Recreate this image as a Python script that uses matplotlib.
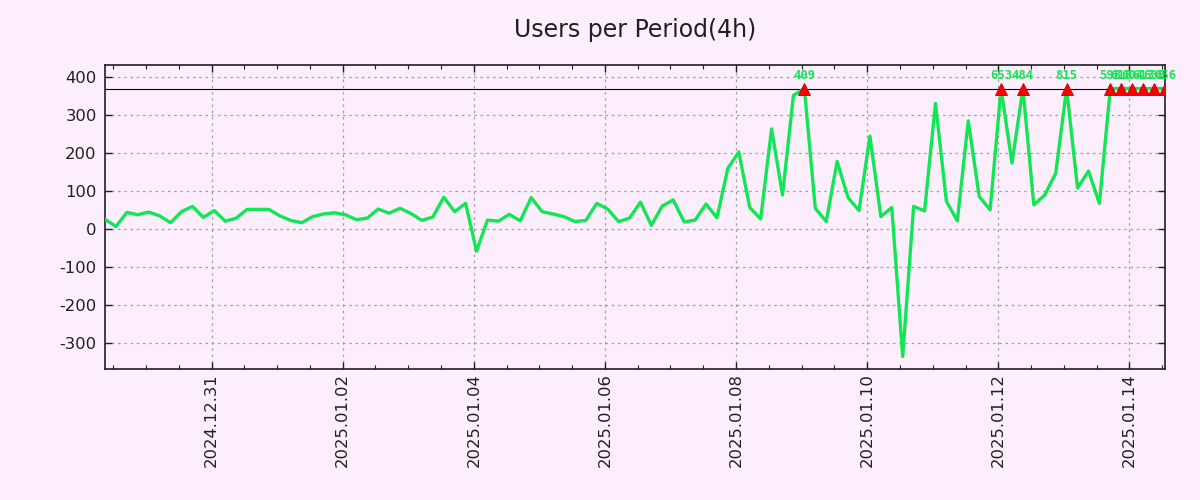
import numpy as np
import pandas as pd
import matplotlib
matplotlib.use("Agg")
import matplotlib.pyplot as plt
import matplotlib.dates as mdates
from matplotlib.ticker import FixedLocator

# ========== Data ==========
START = "2024-12-29 09:00"
PERIOD = "4h"
CLIP = 370  # values above this are drawn on the line with a marker

users = [
    26, 7, 44, 38, 45, 35, 17, 46, 60, 31,
    49, 21, 29, 52, 52, 52, 35, 23, 17, 33,
    40, 43, 38, 25, 29, 53, 42, 55, 41, 23,
    32, 84, 46, 68, -58, 24, 21, 39, 22, 83,
    46, 40, 33, 20, 23, 68, 53, 20, 29, 71,
    10, 61, 77, 19, 24, 66, 30, 160, 203, 57,
    27, 264, 90, 352, 409, 55, 20, 178, 83, 49,
    245, 33, 57, -335, 60, 48, 331, 73, 22, 285,
    86, 51, 653, 174, 484, 64, 90, 147, 815, 108,
    153, 68, 598, 618, 604, 613, 638, 656,
]
y_ticks = [-300, -200, -100, 0, 100, 200, 300, 400]
date_ticks = ["2024-12-31", "2025-01-02", "2025-01-04", "2025-01-06",
              "2025-01-08", "2025-01-10", "2025-01-12", "2025-01-14"]

# ========== Style ==========
BG = "#FCEEFC"
GREEN = "#12E655"
RED = "#FF0000"
plt.rcParams["axes.unicode_minus"] = False

times = pd.date_range(START, periods=len(users), freq=PERIOD)
vals = np.array(users, dtype=float)
shown = np.minimum(vals, CLIP)
over = vals > CLIP

fig = plt.figure(figsize=(12, 5), dpi=100, facecolor=BG)
ax = fig.add_axes([0.0875, 0.262, 0.8833, 0.608], facecolor=BG)

ax.plot(times, shown, color=GREEN, lw=2.4, zorder=3)
ax.axhline(CLIP, color="black", lw=0.8, zorder=2)

# clipped points: red triangle + real value (labels overlap, as in the original)
ax.plot(times[over], shown[over], ls="none", marker="^", ms=8,
        mfc=RED, mec="#C00000", mew=0.6, zorder=4)
for t, v in zip(times[over], vals[over]):
    ax.annotate(f"{int(v)}", (t, CLIP), xytext=(0, 5), textcoords="offset points",
                ha="center", va="bottom", color=GREEN, fontsize=8.8,
                fontweight="bold", family="DejaVu Sans Mono", zorder=5)

# ========== Axes ==========
ax.set_xlim(times[0], times[-1])
ax.set_ylim(-368, 432)
ax.set_yticks(y_ticks)

ax.xaxis.set_major_locator(FixedLocator(mdates.date2num(pd.to_datetime(date_ticks))))
ax.xaxis.set_minor_locator(mdates.HourLocator(byhour=[0, 12]))
ax.xaxis.set_major_formatter(mdates.DateFormatter("%Y.%m.%d"))
plt.setp(ax.get_xticklabels(), rotation=90, ha="center", va="top")

ax.tick_params(which="both", direction="in", top=True, right=True, color="#202020")
ax.tick_params(which="major", length=5, width=1, labelsize=11.8, labelcolor="#202020")
ax.tick_params(axis="y", pad=6)
ax.tick_params(axis="x", pad=3)
ax.tick_params(which="minor", length=3, width=0.8)

ax.grid(True, which="major", color="#A0A0A0", lw=0.9, ls=(0, (2, 3)))
for s in ax.spines.values():
    s.set_color("#202020")
    s.set_linewidth(1.2)

# title centred over the plot area
fig.text(0.529, 0.94, "Users per Period(4h)", ha="center", va="center",
         fontsize=17, color="#202020")

fig.savefig("out.png", dpi=100, facecolor=BG)
